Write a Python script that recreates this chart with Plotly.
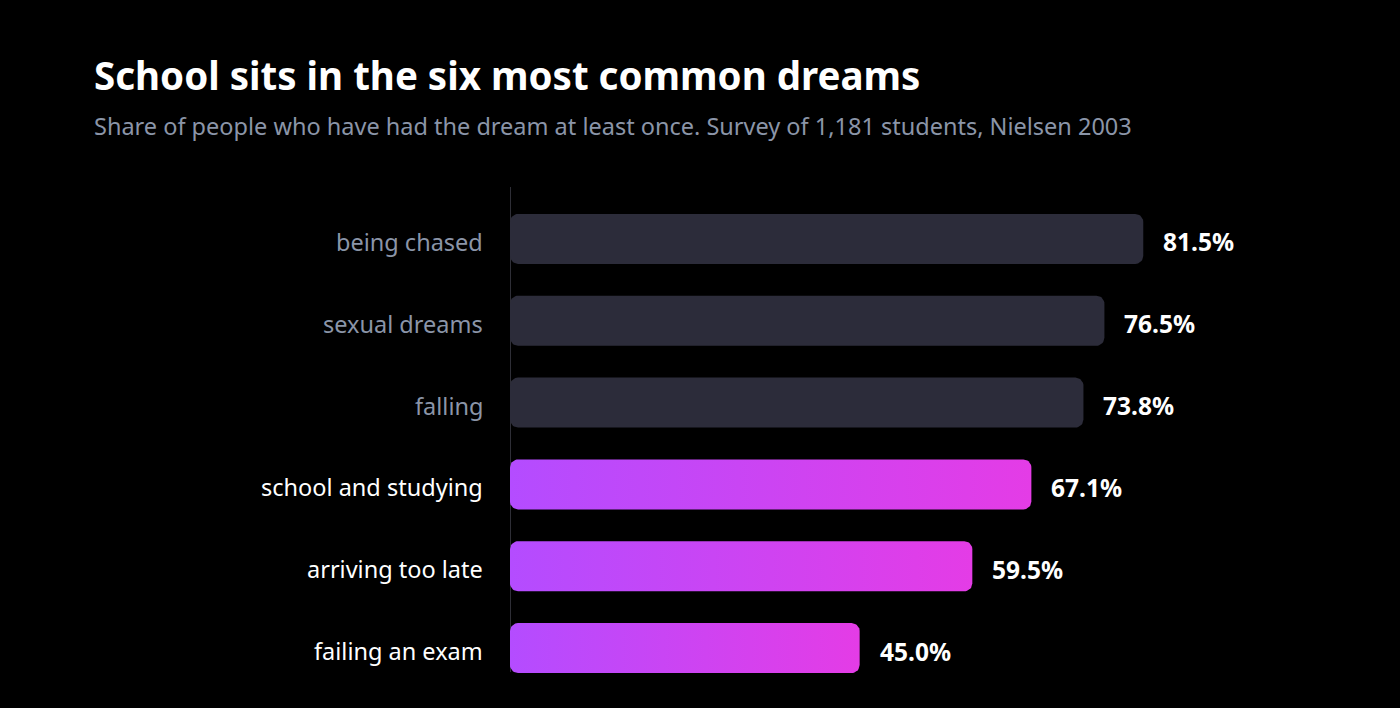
import numpy as np
import plotly.graph_objects as go

# Data
dreams = ["being chased", "sexual dreams", "falling",
          "school and studying", "arriving too late", "failing an exam"]
shares = [81.5, 76.5, 73.8, 67.1, 59.5, 45.0]
highlight = [False, False, False, True, True, True]

# Colours
bg = "#000000"
grey_bar = "#2c2c3a"
grey_text = "#8b95a8"
grad = [[0, "#b44cff"], [1, "#e43ce6"]]

# Layout geometry (pixels)
W, H = 1400, 708
m_l, m_r, m_t, m_b = 510, 113, 198, 19
x_max = 100
plot_w = W - m_l - m_r
plot_h = H - m_t - m_b
px_x = plot_w / x_max
px_y = plot_h / len(dreams)
bar_h = 0.611
radius = 8


def rounded_bar(x1, yc):
    # rounded rectangle outline in data units, running from 0 to x1
    rx, ry = radius / px_x, radius / px_y
    y0, y1 = yc - bar_h / 2, yc + bar_h / 2
    t = np.linspace(0, np.pi / 2, 10)
    xs, ys = [], []
    corners = [(x1 - rx, y0 + ry), (x1 - rx, y1 - ry), (rx, y1 - ry), (rx, y0 + ry)]
    for i, (cx, cy) in enumerate(corners):
        a = t + (np.pi / 2) * i - np.pi / 2
        xs += list(cx + rx * np.cos(a))
        ys += list(cy + ry * np.sin(a))
    xs.append(xs[0])
    ys.append(ys[0])
    return xs, ys


fig = go.Figure()

for i, (name, val, hl) in enumerate(zip(dreams, shares, highlight)):
    xs, ys = rounded_bar(val, i)
    tr = dict(x=xs, y=ys, mode="lines", fill="toself", line=dict(width=0),
              hoverinfo="skip", showlegend=False)
    if hl:
        tr["fillgradient"] = dict(type="horizontal", colorscale=grad)
    else:
        tr["fillcolor"] = grey_bar
    fig.add_trace(go.Scatter(**tr))
    # value label
    fig.add_annotation(x=val, y=i, text=f"<b>{val:.1f}%</b>", showarrow=False,
                       xanchor="left", xshift=18, yshift=-3,
                       font=dict(size=24.5, color="#ffffff"))
    # category label
    fig.add_annotation(xref="paper", x=0, y=i, text=name, showarrow=False,
                       xanchor="right", xshift=-25, yshift=-3,
                       font=dict(size=23.5, color="#ffffff" if hl else grey_text))

fig.update_layout(
    width=W, height=H,
    margin=dict(l=m_l, r=m_r, t=m_t, b=m_b),
    paper_bgcolor=bg, plot_bgcolor=bg,
    font=dict(family="Noto Sans", color="#ffffff"),
    xaxis=dict(range=[0, x_max], visible=False, fixedrange=True),
    yaxis=dict(range=[len(dreams) - 0.5, -0.5], visible=False, fixedrange=True),
)

# thin baseline at zero
fig.add_shape(type="line", xref="x", yref="paper", x0=0, x1=0,
              y0=(H - 672 - m_b) / plot_h, y1=(H - 187 - m_b) / plot_h,
              line=dict(color="#2e2e36", width=2), layer="below")

title_x = (92 - m_l) / plot_w
fig.add_annotation(xref="paper", yref="paper", x=title_x, y=(H - 75 - m_b) / plot_h,
                   xanchor="left", yanchor="middle", showarrow=False,
                   text="<b>School sits in the six most common dreams</b>",
                   font=dict(size=38.5, color="#ffffff"))
fig.add_annotation(xref="paper", yref="paper", x=title_x, y=(H - 126 - m_b) / plot_h,
                   xanchor="left", yanchor="middle", showarrow=False,
                   text="Share of people who have had the dream at least once. "
                        "Survey of 1,181 students, Nielsen 2003",
                   font=dict(size=23.5, color=grey_text))

fig.write_html("out.html", config={"displayModeBar": False},
               post_script="document.body.style.margin='0';"
                           "document.body.style.background='#000';")
